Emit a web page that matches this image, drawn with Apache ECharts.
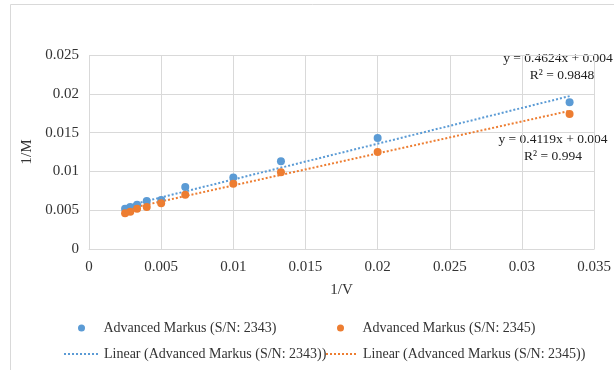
<!DOCTYPE html>
<html lang="en" style="height: 100%">
<head>
  <meta charset="utf-8">
</head>
<body style="height: 100%; margin: 0; background: #fff">
  <div id="container" style="width: 614px; height: 370px"></div>

  <script type="text/javascript" src="https://cdn.jsdelivr.net/npm/echarts@6/dist/echarts.min.js"></script>

  <script type="text/javascript">
    var dom = document.getElementById('container');
    var myChart = echarts.init(dom, null, { renderer: 'canvas' });

// 1/V values (V = 30 ... 400)
const invV = [0.0333, 0.02, 0.0133, 0.01, 0.00667, 0.005, 0.004, 0.00333, 0.00286, 0.0025];
// 1/M values
const invM2343 = [0.0189, 0.0143, 0.0113, 0.0092, 0.0080, 0.0063, 0.0062, 0.0057, 0.0054, 0.0052];
const invM2345 = [0.0174, 0.0125, 0.0099, 0.0084, 0.0070, 0.0059, 0.0054, 0.0052, 0.0048, 0.0046];
// trendline end points
const trendX = [0.0025, 0.0333];
const trend2343 = [0.0055, 0.0197];
const trend2345 = [0.0051, 0.0178];
const xTicks = { min: 0, max: 0.035, interval: 0.005 };
const yTicks = { min: 0, max: 0.025, interval: 0.005 };
const names = ['Advanced Markus (S/N: 2343)', 'Advanced Markus (S/N: 2345)',
  'Linear (Advanced Markus (S/N: 2343))', 'Linear (Advanced Markus (S/N: 2345))'];
const eq2343 = ['y = 0.4624x + 0.004', 'R² = 0.9848'];
const eq2345 = ['y = 0.4119x + 0.004', 'R² = 0.994'];

const blue = '#5b9bd5';
const orange = '#ed7d31';
const font = 'Liberation Serif';
const pair = (xs, ys) => xs.map((x, i) => [x, ys[i]]);

function legendAt(name, left, top, w, h, hideSymbol) {
  const lg = {
    data: [name], left: left, top: top, itemWidth: w, itemHeight: h, padding: 0,
    textStyle: { fontFamily: font, fontSize: 14, color: '#333' },
    selectedMode: false
  };
  if (hideSymbol) lg.itemStyle = { opacity: 0 };
  return lg;
}

const eqStyle = t => ({ text: t, font: '13.5px ' + font, fill: '#222', align: 'center', verticalAlign: 'middle' });

const option = {
  animation: false,
  grid: { left: 89, right: 15, top: 55, bottom: 121 },
  legend: [
    legendAt(names[0], 78, 321, 34, 7, false),
    legendAt(names[2], 63, 347, 35, 14, true),
    legendAt(names[1], 337, 321, 34, 7, false),
    legendAt(names[3], 325, 347, 32, 14, true)
  ],
  graphic: [
    { type: 'rect', shape: { x: 10.5, y: 4.5, width: 700, height: 500 },
      style: { fill: 'none', stroke: '#d9d9d9', lineWidth: 1 }, silent: true },
    { type: 'text', x: 558, y: 58, style: eqStyle(eq2343[0]) },
    { type: 'text', x: 562, y: 75, style: eqStyle(eq2343[1]) },
    { type: 'text', x: 553, y: 139, style: eqStyle(eq2345[0]) },
    { type: 'text', x: 553, y: 156, style: eqStyle(eq2345[1]) }
  ],
  xAxis: {
    type: 'value',
    min: xTicks.min, max: xTicks.max, interval: xTicks.interval,
    name: '1/V', nameLocation: 'middle', nameGap: 34,
    nameTextStyle: { fontFamily: font, fontSize: 15, color: '#333' },
    axisLine: { show: true, lineStyle: { color: '#d9d9d9' } },
    axisTick: { show: false },
    axisLabel: { fontFamily: font, fontSize: 15, color: '#333', margin: 11 },
    splitLine: { show: true, lineStyle: { color: '#d9d9d9' } }
  },
  yAxis: {
    type: 'value',
    min: yTicks.min, max: yTicks.max, interval: yTicks.interval,
    name: '1/M', nameLocation: 'middle', nameGap: 48,
    nameTextStyle: { fontFamily: font, fontSize: 15, color: '#333' },
    axisLine: { show: false },
    axisTick: { show: false },
    axisLabel: { fontFamily: font, fontSize: 15, color: '#333', margin: 10 },
    splitLine: { show: true, lineStyle: { color: '#d9d9d9' } }
  },
  series: [
    {
      name: names[2], type: 'line', data: pair(trendX, trend2343),
      showSymbol: false, symbol: 'none', z: 1,
      lineStyle: { color: blue, width: 2, type: [2, 2] }, itemStyle: { color: blue }
    },
    {
      name: names[3], type: 'line', data: pair(trendX, trend2345),
      showSymbol: false, symbol: 'none', z: 1,
      lineStyle: { color: orange, width: 2, type: [2, 2] }, itemStyle: { color: orange }
    },
    {
      name: names[0], type: 'scatter', data: pair(invV, invM2343),
      symbolSize: 8, z: 3, itemStyle: { color: blue, opacity: 1 }
    },
    {
      name: names[1], type: 'scatter', data: pair(invV, invM2345),
      symbolSize: 8, z: 3, itemStyle: { color: orange, opacity: 1 }
    }
  ]
};

    myChart.setOption(option);
    window.addEventListener('resize', myChart.resize);
  </script>
</body>
</html>
